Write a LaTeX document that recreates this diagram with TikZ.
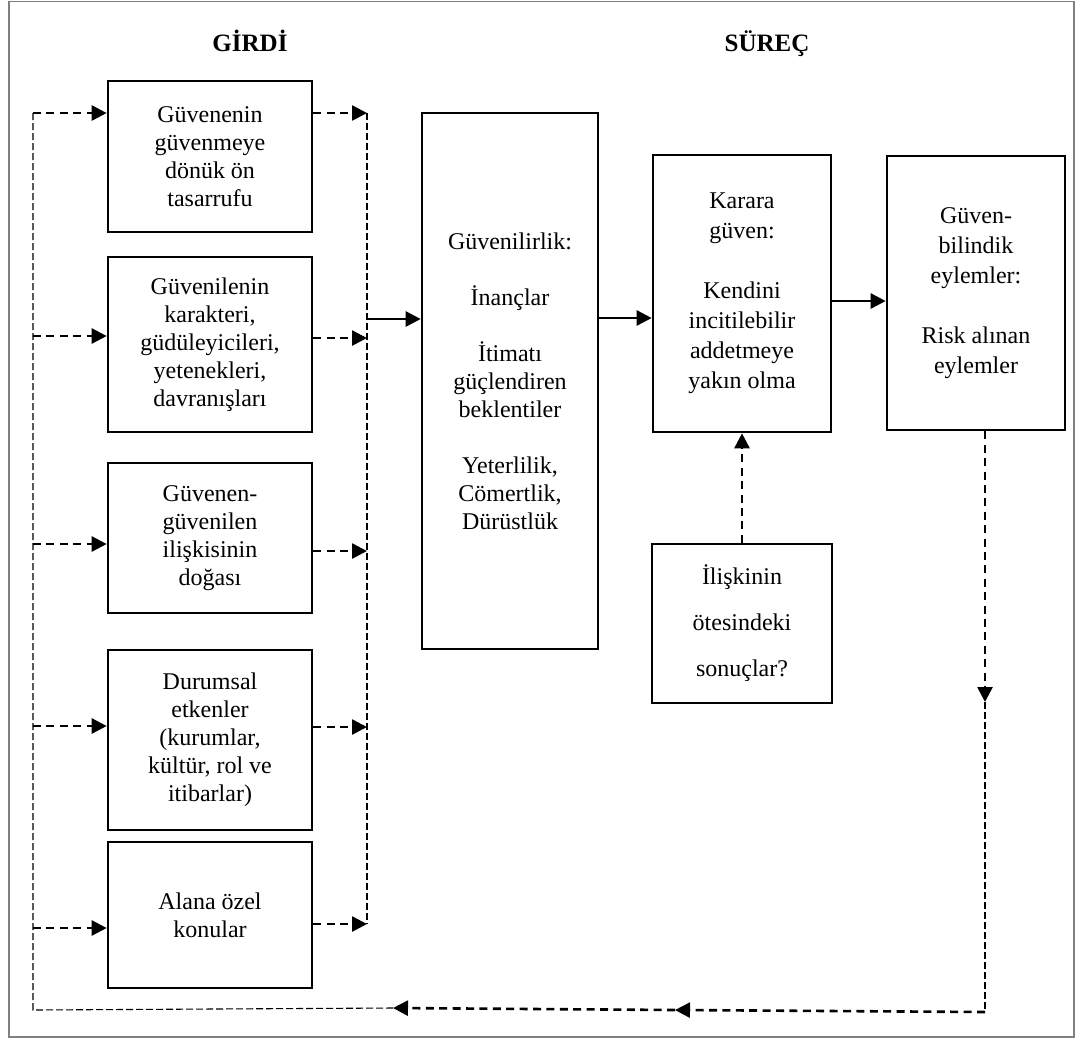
\documentclass[tikz,border=0pt]{standalone}
\usepackage{fontspec}
\setmainfont{Liberation Serif}
\usetikzlibrary{arrows.meta}
\begin{document}
\begin{tikzpicture}[x=0.5pt,y=-0.5pt,
 box/.style={draw, line width=1.3pt, inner sep=0pt, align=center, font=\fontsize{12pt}{14pt}\selectfont},
 fineline/.style={line width=0.55pt, dash pattern=on 3.5pt off 1.5pt},
 darr/.style={line width=1.3pt, dash pattern=on 4pt off 2.7pt, -{Triangle[length=7.5pt,width=7.5pt]}},
 sarr/.style={line width=1.3pt, -{Triangle[length=7.5pt,width=7.5pt]}},
 ttl/.style={font=\fontsize{12.5pt}{14pt}\selectfont\bfseries, anchor=base}]
\useasboundingbox (0,0) rectangle (1077,1041);
\draw[line width=0.6pt, color=gray] (9,1.5) rectangle (1074,1037);

\node[ttl] (t1) at (250,51) {GİRDİ};
\node[ttl] (t2) at (767,51) {SÜREÇ};

\node[box, minimum width=102pt, minimum height=75.5pt] (b1) at (210,156.5) {Güvenenin\\güvenmeye\\dönük ön\\tasarrufu};
\node[box, minimum width=102pt, minimum height=87.5pt] (b2) at (210,344.5) {Güvenilenin\\karakteri,\\güdüleyicileri,\\yetenekleri,\\davranışları};
\node[box, minimum width=102pt, minimum height=75pt] (b3) at (210,538) {Güvenen-\\güvenilen\\ilişkisinin\\doğası};
\node[box, minimum width=102pt, minimum height=90pt] (b4) at (210,740) {Durumsal\\etkenler\\(kurumlar,\\kültür, rol ve\\itibarlar)};
\node[box, minimum width=102pt, minimum height=73pt] (b5) at (210,915) {Alana özel\\konular};

\node[box, minimum width=88pt, minimum height=268pt] (gv) at (510,381) {Güvenilirlik:\\[14pt]İnançlar\\[14pt]İtimatı\\güçlendiren\\beklentiler\\[14pt]Yeterlilik,\\Cömertlik,\\Dürüstlük};
\node[box, font=\fontsize{12pt}{15pt}\selectfont, minimum width=89pt, minimum height=138.5pt] (kg) at (742,293.5) {Karara\\güven:\\[15pt]Kendini\\incitilebilir\\addetmeye\\yakın olma};
\node[box, font=\fontsize{12pt}{15pt}\selectfont, minimum width=89pt, minimum height=137pt] (ge) at (976,293) {Güven-\\bilindik\\eylemler:\\[15pt]Risk alınan\\eylemler};
\node[box, font=\fontsize{12pt}{23pt}\selectfont, minimum width=90pt, minimum height=79.5pt] (il) at (742,623.5) {İlişkinin\\ötesindeki\\sonuçlar?};

\coordinate (L1) at (33,113);
\coordinate (L2) at (33,336);
\coordinate (L3) at (33,544);
\coordinate (L4) at (33,726);
\coordinate (L5) at (33,928);
\coordinate (Lb) at (33,1010);
\coordinate (R1) at (367,113);
\coordinate (R2) at (367,338);
\coordinate (R3) at (367,551);
\coordinate (R4) at (367,727);
\coordinate (R5) at (367,924);
\coordinate (Rs) at (367,319);
\coordinate (S2) at (0,318);
\coordinate (S3) at (0,301);
\coordinate (D1) at (985,702);
\coordinate (D2) at (985,1012);
\coordinate (M) at (675,1010);
\coordinate (Bl) at (393,1008);

\draw[fineline] (Bl) -- (Lb) -- (L1);
\draw[fineline] (R1) -- (R5);
\draw[darr] (L1) -- (L1 -| b1.west);
\draw[darr] (L2) -- (L2 -| b2.west);
\draw[darr] (L3) -- (L3 -| b3.west);
\draw[darr] (L4) -- (L4 -| b4.west);
\draw[darr] (L5) -- (L5 -| b5.west);
\draw[darr] (b1.east |- R1) -- (R1);
\draw[darr] (b2.east |- R2) -- (R2);
\draw[darr] (b3.east |- R3) -- (R3);
\draw[darr] (b4.east |- R4) -- (R4);
\draw[darr] (b5.east |- R5) -- (R5);

\draw[sarr] (Rs) -- (Rs -| gv.west);
\draw[sarr] (gv.east |- S2) -- (kg.west |- S2);
\draw[sarr] (kg.east |- S3) -- (ge.west |- S3);
\draw[darr] (il.north) -- (kg.south);

\draw[darr] (ge.south -| D1) -- (D1);
\draw[fineline] (D1) -- (D2);
\draw[darr] (D2) -- (M);
\draw[darr] (M) -- (Bl);
\end{tikzpicture}
\end{document}
